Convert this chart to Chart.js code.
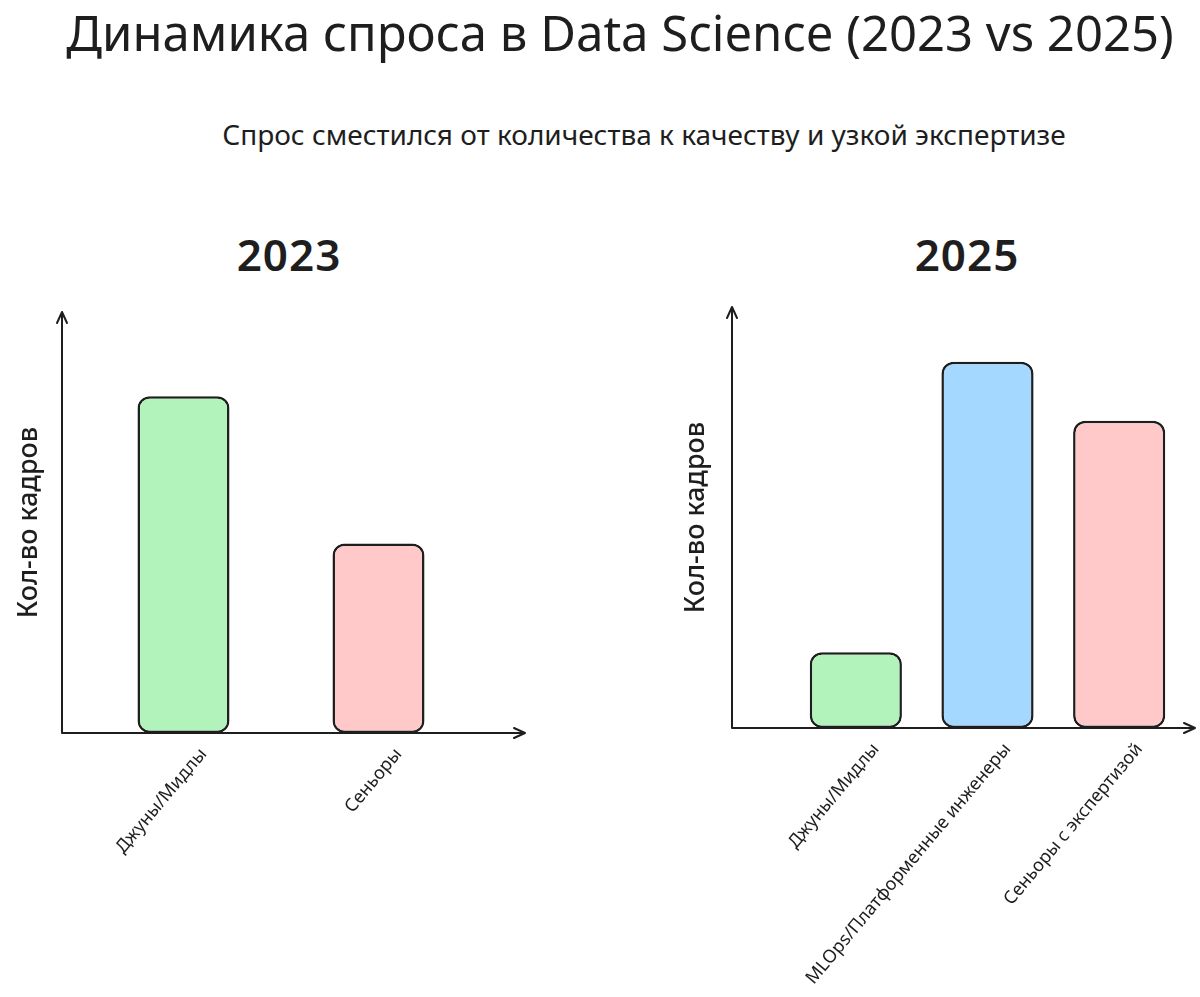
<!DOCTYPE html>
<html lang="ru">
<head>
<meta charset="utf-8">
<title>Динамика спроса в Data Science</title>
<script src="https://cdn.jsdelivr.net/npm/chart.js@4.4.1/dist/chart.umd.min.js"></script>
<style>
  html, body { margin: 0; padding: 0; background: #fff; }
  body { width: 1200px; height: 997px; position: relative; overflow: hidden; font-family: 'Noto Sans', sans-serif; color: #1e1e1e; }
  .txt { position: absolute; white-space: nowrap; transform: translateX(-50%); line-height: 1; }
  #title { left: 620px; top: 8px; font-size: 49px; }
  #subtitle { left: 644px; top: 120px; font-size: 28px; }
  .year { top: 232px; font-size: 44px; font-weight: 600; letter-spacing: 1px; }
  #year23 { left: 289px; }
  #year25 { left: 967px; }
  .box { position: absolute; top: 290px; height: 707px; }
  #box23 { left: 0; width: 560px; }
  #box25 { left: 660px; width: 540px; }
</style>
</head>
<body>
<div id="title" class="txt">Динамика спроса в Data Science (2023 vs 2025)</div>
<div id="subtitle" class="txt">Спрос сместился от количества к качеству и узкой экспертизе</div>
<div id="year23" class="txt year">2023</div>
<div id="year25" class="txt year">2025</div>
<div id="box23" class="box"><canvas id="chart2023"></canvas></div>
<div id="box25" class="box"><canvas id="chart2025"></canvas></div>
<script>
'use strict';

// Data
const labels2023 = ['Джуны/Мидлы', 'Сеньоры'];
const values2023 = [80, 45];
const labels2025 = ['Джуны/Мидлы', 'MLOps/Платформенные инженеры', 'Сеньоры с экспертизой'];
const values2025 = [18, 87, 73];
const yTitle = 'Кол-во кадров';
const yMax = 100;

// Colors
const inkColor = '#1e1e1e',
  greenColor = '#b2f2bb',
  pinkColor = '#ffc9c9',
  blueColor = '#a5d8ff';

// hand-drawn style axes with open arrow heads
const arrowAxes = {
  id: 'arrowAxes',
  beforeDatasetsDraw(chart, args, opts) {
    const { ctx, chartArea } = chart;
    const x0 = chartArea.left - opts.gap;
    const y0 = chartArea.bottom;
    const xEnd = chartArea.right + opts.over;
    const yTop = chartArea.top;
    ctx.save();
    ctx.strokeStyle = inkColor;
    ctx.lineWidth = 2;
    ctx.lineCap = 'round';
    ctx.lineJoin = 'round';
    ctx.beginPath();
    ctx.moveTo(x0, y0);
    ctx.lineTo(x0, yTop);
    ctx.moveTo(x0 - 5, yTop + 11);
    ctx.lineTo(x0, yTop);
    ctx.lineTo(x0 + 5, yTop + 11);
    ctx.moveTo(x0, y0);
    ctx.lineTo(xEnd, y0);
    ctx.moveTo(xEnd - 11, y0 - 5);
    ctx.lineTo(xEnd, y0);
    ctx.lineTo(xEnd - 11, y0 + 5);
    ctx.stroke();
    ctx.restore();
  }
};

function makeChart(id, labels, values, colors, lay) {
  return new Chart(document.getElementById(id), {
    type: 'bar',
    data: {
      labels: labels,
      datasets: [{
        data: values,
        backgroundColor: colors,
        borderColor: inkColor,
        borderWidth: 2.5,
        borderRadius: 12,
        borderSkipped: false,
        barPercentage: lay.barPct,
        categoryPercentage: 1
      }]
    },
    plugins: [arrowAxes],
    options: {
      responsive: true,
      maintainAspectRatio: false,
      animation: false,
      layout: { padding: { top: lay.top, right: lay.right, left: 0, bottom: 0 } },
      plugins: {
        legend: { display: false },
        tooltip: { enabled: false },
        arrowAxes: { gap: lay.gap, over: lay.over }
      },
      scales: {
        x: {
          grid: { display: false },
          border: { display: false },
          ticks: {
            color: inkColor,
            font: { family: 'Noto Sans', size: 18 },
            minRotation: 50,
            maxRotation: 50,
            autoSkip: false,
            labelOffset: 20
          },
          afterFit(scale) { scale.height = lay.xHeight; }
        },
        y: {
          min: 0,
          max: yMax,
          grid: { display: false },
          border: { display: false },
          ticks: { display: false },
          title: {
            display: true,
            text: yTitle,
            color: inkColor,
            font: { family: 'Noto Sans', size: 27, weight: '500' },
            padding: { top: lay.titlePad, bottom: 0 }
          },
          afterFit(scale) { scale.width = lay.yWidth; }
        }
      }
    }
  });
}

makeChart('chart2023', labels2023, values2023, [greenColor, pinkColor], {
  top: 22, right: 84, yWidth: 86, xHeight: 264, gap: 24, over: 49, titlePad: 13, barPct: 0.472
});

makeChart('chart2025', labels2025, values2025, [greenColor, blueColor, pinkColor], {
  top: 17, right: 15, yWidth: 130, xHeight: 269, gap: 58, over: 10, titlePad: 20, barPct: 0.7
});
</script>
</body>
</html>
